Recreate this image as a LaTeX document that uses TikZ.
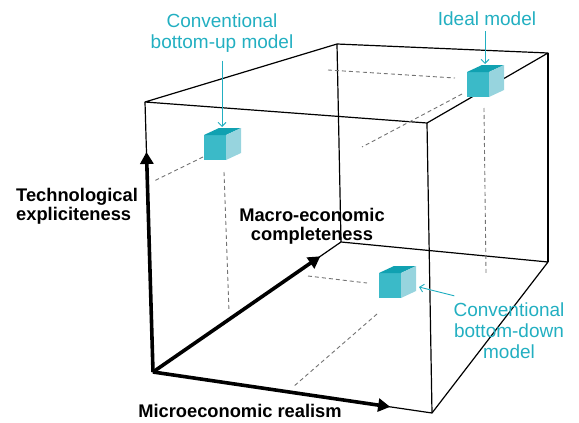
\documentclass[tikz,border=0pt]{standalone}
\usepackage{fontspec}
\setmainfont{Liberation Sans}
\usetikzlibrary{arrows.meta,calc}
\definecolor{modelteal}{HTML}{22AFC1}
\definecolor{cubefront}{HTML}{3BBAC8}
\definecolor{cubetop}{HTML}{10A1B1}
\definecolor{cuberight}{HTML}{97D4DE}
\tikzset{
  boxedge/.style={black,line width=1.2pt,line join=round},
  axis/.style={black,line width=3.6pt,-{Triangle[length=12pt,width=13pt]}},
  guide/.style={black!55,line width=0.9pt,dash pattern=on 4pt off 3pt},
  pointer/.style={modelteal,line width=0.9pt,-{Straight Barb[length=4pt,width=8pt]}},
  modeltext/.style={modelteal,align=center,inner sep=0pt,font=\fontsize{19}{21}\selectfont},
  axistext/.style={inner sep=0pt,font=\fontsize{18.3}{19}\selectfont\bfseries}
}
% #1 name, #2/#3 top left corner of the front face
\newcommand{\modelcube}[3]{%
  \fill[cubefront] (#2,#3) rectangle ++(22,25);
  \fill[cubetop] (#2,#3) -- ++(15,-7) -- ++(22,0) -- ++(-15,7) -- cycle;
  \fill[cuberight] (#2+22,#3) -- ++(15,-7) -- ++(0,25) -- ++(-15,7) -- cycle;
  \coordinate (#1) at (#2+18,#3-6);
  \coordinate (#1-side) at (#2+37,#3+14);
}
\begin{document}
\begin{tikzpicture}[x=1pt,y=-1pt]
\useasboundingbox (0,0) rectangle (579,423);
% box corners
\coordinate (O) at (153,372);
\coordinate (A) at (145,102);
\coordinate (B) at (337,44);
\coordinate (C) at (548,53);
\coordinate (D) at (427,123);
\coordinate (F) at (341,242);
\coordinate (G) at (548,262);
\coordinate (H) at (432,413);
\draw[boxedge] (A) -- (B) -- (C) -- (D) -- cycle;
\draw[boxedge] (A) -- (O) -- (F) -- (G) -- (H) -- (O);
\draw[boxedge] (B) -- (F);
\draw[boxedge] (C) -- (G);
\draw[boxedge] (D) -- (H);
% projection guides
\foreach \xa/\ya/\xb/\yb in {203/157/154/181, 224/172/229/312,
                   328/70/455/78, 462/94/362/147, 484/108/486/273,
                   308/276/367/283, 377/314/293/387}
  \draw[guide] (\xa,\ya) -- (\xb,\yb);
% models
\modelcube{bucube}{204}{135}
\modelcube{idcube}{467}{72}
\modelcube{bdcube}{379}{273}
% axes
\draw[axis] (O) -- ($(O)!0.815!(A)$);
\draw[axis] (O) -- ($(O)!0.89!(F)$);
\draw[axis] (O) -- ($(O)!0.85!(H)$);
\node[axistext,anchor=west,align=left] (techlabel) at (16,206) {Technological\\expliciteness};
\node[axistext,align=center] (macrolabel) at (312,226) {Macro-economic\\completeness};
\node[axistext] (microlabel) at (240,411) {Microeconomic realism};
% labels
\node[modeltext] (bulabel) at (222,33) {Conventional\\bottom-up model};
\node[modeltext] (idlabel) at (487,19) {Ideal model};
\node[modeltext] (bdlabel) at (509,331) {Conventional\\bottom-down\\model};
\draw[pointer] ([yshift=-8pt]bulabel.south -| bucube) -- ([yshift=2pt]bucube);
\draw[pointer] ([yshift=-5pt]idlabel.south -| idcube) -- ([yshift=2pt]idcube);
\draw[pointer] (bdlabel.north west) ++(1,-7) -- ([xshift=3pt]bdcube-side);
\end{tikzpicture}
\end{document}
